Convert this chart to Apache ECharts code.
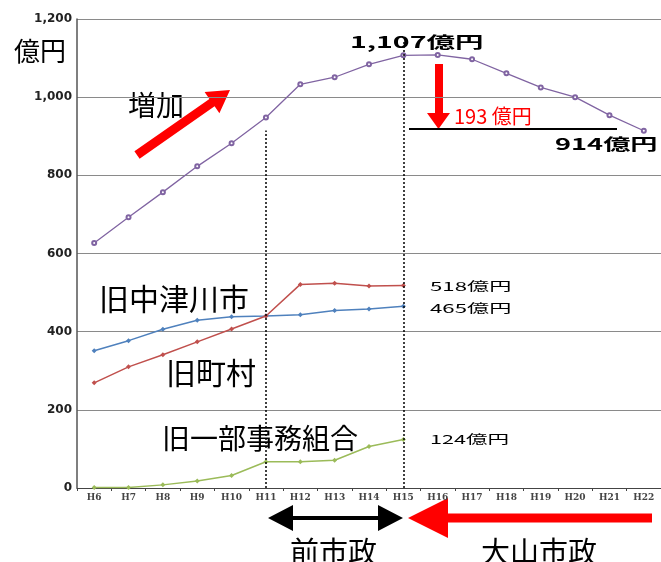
<!DOCTYPE html>
<html><head><meta charset="utf-8">
<script src="https://cdn.jsdelivr.net/npm/echarts@6/dist/echarts.min.js"></script>
<style>html,body{margin:0;padding:0;background:#fff}#c{width:661px;height:562px}</style>
</head><body><div id="c"></div>
<script>
const categories = ['H6','H7','H8','H9','H10','H11','H12','H13','H14','H15','H16','H17','H18','H19','H20','H21','H22'];
const totalValues = [627,693,757,823,882,948,1033,1051,1084,1107,1108,1097,1061,1025,1000,954,914];
const cityValues = [351,377,406,429,438,440,443,454,458,465];
const townValues = [269,310,341,374,407,440,521,524,517,518];
const unionValues = [1,1,8,18,32,67,67,71,106,124];
const yTicks = {min:0, max:1200, interval:200};

const chart = echarts.init(document.getElementById('c'));
const jp = "'Noto Sans CJK JP','Noto Sans',sans-serif";
function txt(x,y,t,size,opts,sx){
  const el = {type:'text',x:x,y:y,style:Object.assign({text:t,font:'normal '+size+'px '+jp,fill:'#000',textAlign:'left',textVerticalAlign:'middle'},opts||{})};
  if (sx) { el.scaleX = sx; }
  return el;
}
chart.setOption({
  animation:false,
  grid:{left:77,right:0,top:19,bottom:74,containLabel:false},
  xAxis:{type:'category',data:categories,boundaryGap:true,
    axisLine:{lineStyle:{color:'#444',width:1}},
    axisTick:{show:true,length:3,lineStyle:{color:'#444'}},
    axisLabel:{interval:0,fontSize:9,fontWeight:'bold',color:'#444',fontFamily:'DejaVu Serif',margin:5}},
  yAxis:{type:'value',min:yTicks.min,max:yTicks.max,interval:yTicks.interval,
    axisLine:{show:true,lineStyle:{color:'#555',width:1.5}},
    axisTick:{show:false},
    splitLine:{lineStyle:{color:'#8a8a8a',width:1}},
    axisLabel:{fontSize:12,fontWeight:'bold',color:'#222',fontFamily:'DejaVu Sans',margin:5,
      formatter:v=>v.toLocaleString('en-US')}},
  series:[
    {name:'total',type:'line',data:totalValues,symbol:'emptyCircle',symbolSize:4,
      lineStyle:{color:'#8064A2',width:1.3},itemStyle:{color:'#8064A2',borderWidth:1}},
    {name:'旧中津川市',type:'line',data:cityValues,symbol:'diamond',symbolSize:5,
      lineStyle:{color:'#4F81BD',width:1.5},itemStyle:{color:'#4F81BD'}},
    {name:'旧町村',type:'line',data:townValues,symbol:'diamond',symbolSize:5,
      lineStyle:{color:'#C0504D',width:1.5},itemStyle:{color:'#C0504D'}},
    {name:'旧一部事務組合',type:'line',data:unionValues,symbol:'diamond',symbolSize:5,
      lineStyle:{color:'#9BBB59',width:1.5},itemStyle:{color:'#9BBB59'},
      markLine:{silent:true,symbol:['none','none'],label:{show:false},
        lineStyle:{color:'#000',type:[2,2],width:1.5},
        data:[[{coord:['H11',0]},{coord:['H11',915]}],[{coord:['H15',0]},{coord:['H15',1145]}]]}}
  ],
  graphic:[
    txt(14,51,'億円',26),
    txt(128,105,'増加',28),
    {type:'polygon',shape:{points:[[139.6,158.7],[134.4,151.3],[209.4,98.9],[204.6,92],[230,90],[219.4,113.2],[214.6,106.3]]},style:{fill:'#ff0000'}},
    txt(350,42,'1,107億円',16,{font:'bold 16px '+jp},1.78),
    {type:'polygon',shape:{points:[[435,64],[443,64],[443,113],[450,113],[438.5,129],[427,113],[435,113]]},style:{fill:'#ff0000'}},
    txt(454,116,'193 億円',20,{fill:'#ff0000',font:"normal 20px 'Liberation Sans Narrow','Noto Sans CJK JP',sans-serif"}),
    {type:'line',shape:{x1:409,y1:129,x2:617,y2:129},style:{stroke:'#000',lineWidth:2}},
    txt(555,144,'914億円',16,{font:'bold 16px '+jp},1.7),
    txt(430,286,'518億円',12,null,1.85),
    txt(430,308,'465億円',12,null,1.85),
    txt(430,439,'124億円',12,null,1.8),
    txt(99,299,'旧中津川市',30),
    txt(166,373,'旧町村',30),
    txt(162,438,'旧一部事務組合',28),
    {type:'polygon',shape:{points:[[268,518],[293,505],[293,516],[378,516],[378,505],[403,518],[378,531],[378,520],[293,520],[293,531]]},style:{fill:'#000'}},
    {type:'polygon',shape:{points:[[408,518],[448,498],[448,513.5],[652,513.5],[652,522.5],[448,522.5],[448,538]]},style:{fill:'#ff0000'}},
    txt(290,552,'前市政',29),
    txt(481,552,'大山市政',29)
  ]
});
</script></body></html>
